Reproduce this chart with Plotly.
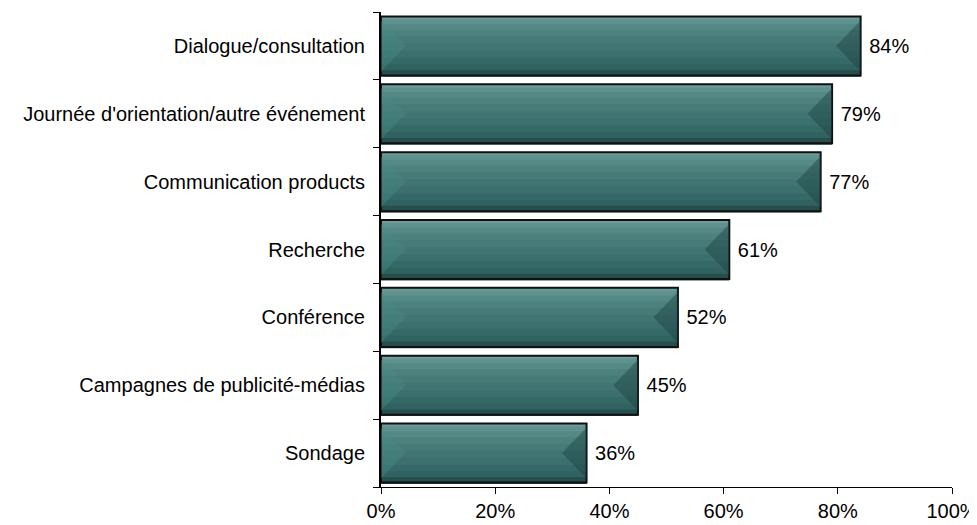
import plotly.graph_objects as go

categories = ["Dialogue/consultation", "Journée d'orientation/autre événement",
              "Communication products", "Recherche", "Conférence",
              "Campagnes de publicité-médias", "Sondage"]
values = [84, 79, 77, 61, 52, 45, 36]
tick_vals = [0, 20, 40, 60, 80, 100]
tick_text = ["0%", "20%", "40%", "60%", "80%", "100%"]

pos = list(range(len(categories)))
W = 0.87
H = W / 2
BEVEL = 4.3  # bevel depth in axis units (%)
# vertical shading bands (fraction of bar thickness, colour), top to bottom
bands = [(0.05, "#6E9C98"), (0.08, "#5F928E"), (0.1, "#548985"), (0.11, "#4C817E"),
         (0.12, "#467B78"), (0.12, "#417573"), (0.12, "#3B706E"), (0.11, "#356967"),
         (0.1, "#306260"), (0.09, "#264E4C")]

fig = go.Figure()
off = -H
for frac, col in bands:
    fig.add_trace(go.Bar(x=values, y=pos, orientation="h", width=W * frac + 0.02, offset=off,
                         marker=dict(color=col, line=dict(width=0)), hoverinfo="skip"))
    off += W * frac
# bevel triangles at both ends of each bar
for p, v in zip(pos, values):
    fig.add_trace(go.Scatter(x=[0, BEVEL, 0, 0], y=[p - H + 0.06, p, p + H - 0.06, p - H + 0.06],
                             mode="lines", fill="toself", line=dict(width=0),
                             fillcolor="rgba(70,140,134,0.4)", hoverinfo="skip"))
    fig.add_trace(go.Scatter(x=[v, v - BEVEL, v, v], y=[p - H + 0.06, p, p + H - 0.06, p - H + 0.06],
                             mode="lines", fill="toself", line=dict(width=0),
                             fillcolor="rgba(28,66,64,0.45)", hoverinfo="skip"))
# outline + labels
fig.add_trace(go.Bar(x=values, y=pos, orientation="h", width=W,
                     marker=dict(color="rgba(0,0,0,0)", line=dict(color="#111111", width=2)),
                     text=[f" {v}%" for v in values], textposition="outside",
                     textfont=dict(size=20, color="#000000"), cliponaxis=False))
# page body has an 8px margin: figure is shrunk so the plot lands where the reference's does
fig.update_layout(
    width=969, height=517,
    margin=dict(l=373, r=25, t=4, b=38, autoexpand=False),
    paper_bgcolor="white", plot_bgcolor="white",
    font=dict(family="Liberation Sans, Arial, sans-serif", size=20, color="#000000"),
    barmode="overlay", showlegend=False,
    xaxis=dict(range=[0, 100], tickvals=tick_vals, ticktext=tick_text, automargin=False,
               showgrid=False, zeroline=False, showline=True, linecolor="#000000",
               linewidth=1, ticks="outside", ticklen=6, tickcolor="#000000",
               ticklabeloverflow="allow"),
    yaxis=dict(range=[len(categories) - 0.5, -0.5], tickvals=pos, ticktext=categories,
               showgrid=False, zeroline=False, showline=True, automargin=False,
               linecolor="#000000", linewidth=2, ticks="outside", ticklen=6,
               tickcolor="rgba(0,0,0,0)", ticklabelstandoff=4,
               minor=dict(tickvals=[p - 0.5 for p in pos] + [len(pos) - 0.5], ticks="outside",
                          ticklen=6, tickcolor="#000000", showgrid=False)),
)
fig.write_html("out.html")
